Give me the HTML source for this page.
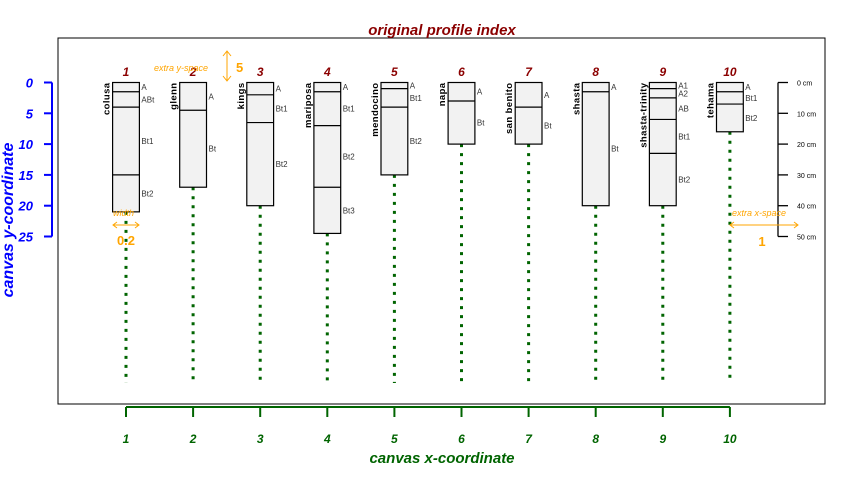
<!DOCTYPE html>
<html><head><meta charset="utf-8"><style>
html,body{margin:0;padding:0;background:#fff}
svg{display:block;font-family:"Liberation Sans",sans-serif}
</style></head><body>
<svg id="c" width="864" height="480" viewBox="0 0 864 480">
<rect x="58" y="38" width="767" height="366" fill="none" stroke="#000"/>
<text x="442" y="35" text-anchor="middle" font-size="15" font-weight="bold" font-style="italic" fill="#8b0000">original profile index</text>
<g id="yaxis"></g>
<g id="xaxis"></g>
<text transform="translate(13,220) rotate(-90)" text-anchor="middle" font-size="16" font-weight="bold" font-style="italic" fill="#0000ff">canvas y-coordinate</text>
<text x="442" y="463" text-anchor="middle" font-size="15" font-weight="bold" font-style="italic" fill="#006400">canvas x-coordinate</text>
<g id="profiles"></g>
<g id="scale"></g>
<g fill="#ffa500" stroke="#ffa500">
<text x="154" y="71" font-size="9" font-style="italic" stroke="none">extra y-space</text>
<line x1="227" y1="51" x2="227" y2="81"/>
<path d="M223,56 L227,51 L231,56 M223,76 L227,81 L231,76" fill="none"/>
<text x="236" y="72" font-size="13" font-weight="bold" stroke="none">5</text>
<text x="113" y="216" font-size="9" font-style="italic" stroke="none">width</text>
<line x1="113" y1="225" x2="139" y2="225"/>
<path d="M117,222 L113,225 L117,228 M135,222 L139,225 L135,228" fill="none"/>
<text x="126" y="245" text-anchor="middle" font-size="13" font-weight="bold" stroke="none">0.2</text>
<text x="732" y="216" font-size="9" font-style="italic" stroke="none">extra x-space</text>
<line x1="730" y1="225" x2="798" y2="225"/>
<path d="M734,222 L730,225 L734,228 M794,222 L798,225 L794,228" fill="none"/>
<text x="762" y="246" text-anchor="middle" font-size="13" font-weight="bold" stroke="none">1</text>
</g>
</svg>
<script>
const names=["colusa","glenn","kings","mariposa","mendocino","napa","san benito","shasta","shasta-trinity","tehama"];
const tops=[[0,3,8,30],[0,9],[0,4,13],[0,3,14,34],[0,2,8],[0,6],[0,8],[0,3],[0,2,5,12,23],[0,3,7]];
const bottoms=[42,34,40,49,30,20,20,40,40,16];
const hz=[["A","ABt","Bt1","Bt2"],["A","Bt"],["A","Bt1","Bt2"],["A","Bt1","Bt2","Bt3"],["A","Bt1","Bt2"],["A","Bt"],["A","Bt"],["A","Bt"],["A1","A2","AB","Bt1","Bt2"],["A","Bt1","Bt2"]];
const yTicks=[0,5,10,15,20,25];
const xTicks=[1,2,3,4,5,6,7,8,9,10];
const scaleTicks=[0,10,20,30,40,50];
const NS="http://www.w3.org/2000/svg";
const X=i=>126+(i-1)*67.1;
const D=cm=>82.5+cm*3.08;
const Yc=v=>82.5+v*6.16;
const hw=13.4;
function mk(p,t,a){const e=document.createElementNS(NS,t);for(const k in a)e.setAttribute(k,a[k]);p.appendChild(e);return e;}
const ya=document.getElementById('yaxis');
let e=mk(ya,'line',{x1:52,y1:Yc(0),x2:52,y2:Yc(25),stroke:'#0000ff','stroke-width':2});


yTicks.forEach(v=>{
 let t=mk(ya,'line',{x1:44,x2:52,y1:Yc(v),y2:Yc(v),stroke:'#0000ff','stroke-width':2});
 
 
 let l=mk(ya,'text',{x:33,y:Yc(v)+5,'text-anchor':'end','font-size':13,'font-weight':'bold','font-style':'italic',fill:'#0000ff'});
 l.textContent=v;
 
 
});
const xa=document.getElementById('xaxis');
e=mk(xa,'line',{x1:X(1),y1:407,x2:X(10),y2:407,stroke:'#006400','stroke-width':2});


xTicks.forEach(v=>{
 let t=mk(xa,'line',{x1:X(v),x2:X(v),y1:407,y2:417,stroke:'#006400','stroke-width':2});
 
 
 let l=mk(xa,'text',{x:X(v),y:443,'text-anchor':'middle','font-size':12,'font-weight':'bold','font-style':'italic',fill:'#006400'});
 l.textContent=v;
 
 
});
const pg=document.getElementById('profiles');
names.forEach((n,k)=>{
 const i=k+1,cx=X(i),b=bottoms[k];
 const g=mk(pg,'g',{});
 
 
 let d=mk(g,'line',{x1:cx,x2:cx,y1:D(b),y2:383,stroke:'#006400','stroke-width':3,'stroke-dasharray':'3,6'});
 
 
 let r=mk(g,'rect',{x:cx-hw,y:D(0),width:2*hw,height:D(b)-D(0),fill:'#f2f2f2',stroke:'#000','stroke-width':1.2});
 
 
 tops[k].forEach((t,j)=>{
  const bot=j+1<tops[k].length?tops[k][j+1]:b;
  if(j>0){let l=mk(g,'line',{x1:cx-hw,x2:cx+hw,y1:D(t),y2:D(t),stroke:'#000','stroke-width':1.2});
   
   }
  let lb=mk(g,'text',{x:cx+hw+2,y:(D(t)+D(bot))/2+3,'font-size':8,fill:'#333'});
  lb.textContent=hz[k][j];
  
  
 });
 let nm=mk(g,'text',{transform:`translate(${cx-hw-3},${D(0)}) rotate(-90)`,'text-anchor':'end','font-size':9.5,'font-weight':'bold','letter-spacing':'0.4',fill:'#000'});
 nm.textContent=n;
 
 
 let id=mk(g,'text',{x:cx,y:76,'text-anchor':'middle','font-size':12,'font-weight':'bold','font-style':'italic',fill:'#8b0000'});
 id.textContent=i;
 
 
});
const sc=document.getElementById('scale');
e=mk(sc,'line',{x1:778,x2:778,y1:D(0),y2:D(50),stroke:'#000','stroke-width':1.3});


scaleTicks.forEach(v=>{
 let t=mk(sc,'line',{x1:778,x2:788,y1:D(v),y2:D(v),stroke:'#000','stroke-width':1.3});
 
 
 let l=mk(sc,'text',{x:797,y:D(v)+3,'font-size':7,fill:'#000'});
 l.textContent=v+' cm';
 
 
});
</script>
</body></html>
